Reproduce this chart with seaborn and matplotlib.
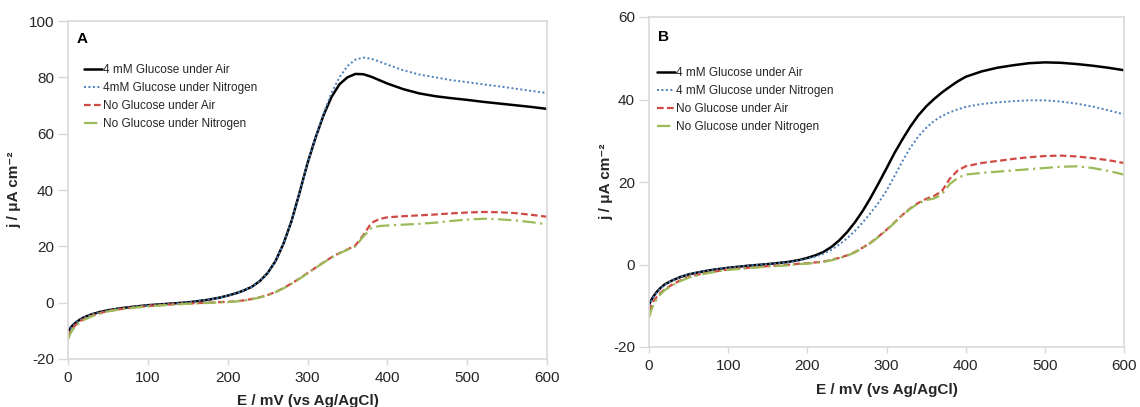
import pandas as pd
import matplotlib.pyplot as plt
import seaborn as sns

# -----------------------------
# Data
# -----------------------------
potential = [0, 3, 6, 10, 15, 20, 30, 40, 50, 65, 80, 100, 125, 150, 175, 190,
             200, 210, 220, 230, 240, 250, 260, 270, 280, 290, 300, 310, 320, 330,
             340, 350, 360, 370, 380, 390, 400, 420, 440, 460, 480, 500, 520, 540,
             560, 580, 600]

# panel A
a_glu_air = [-10.2, -9.0, -8.0, -7.0, -6.0, -5.2, -4.1, -3.3, -2.7, -2.0, -1.5, -0.9, -0.4, 0.1, 1.0, 1.8,
             2.5, 3.3, 4.3, 5.6, 7.6, 10.5, 14.8, 21, 29, 39, 49.5, 58.5, 66.5, 73,
             77.5, 80, 81.2, 81.1, 80.2, 79, 77.8, 75.8, 74.3, 73.3, 72.6, 72, 71.3, 70.7,
             70.1, 69.5, 68.8]
a_glu_n2 = [-10.6, -9.3, -8.2, -7.2, -6.1, -5.3, -4.1, -3.3, -2.7, -2.0, -1.5, -0.9, -0.4, 0.1, 1.0, 1.8,
            2.5, 3.3, 4.3, 5.6, 7.6, 10.5, 14.8, 21, 29, 39, 49.5, 58.5, 67, 74.5,
            80, 84, 86.3, 87, 86.6, 85.6, 84.5, 82.5, 81, 80, 79, 78.3, 77.5, 76.8,
            76, 75.2, 74.4]
a_no_air = [-12, -10.3, -9, -7.8, -6.6, -5.8, -4.6, -3.7, -3.0, -2.3, -1.8, -1.2, -0.7, -0.3, 0, 0.2,
            0.3, 0.5, 0.8, 1.3, 1.9, 2.7, 3.8, 5.2, 6.8, 8.6, 10.5, 12.4, 14.3, 16.1,
            17.6, 18.9, 20.3, 24, 28.3, 29.7, 30.3, 30.7, 31, 31.3, 31.7, 32, 32.2, 32.1,
            31.8, 31.2, 30.5]
a_no_n2 = [-13, -11, -9.5, -8.2, -7, -6.1, -4.8, -3.9, -3.1, -2.4, -1.9, -1.3, -0.8, -0.4, -0.1, 0.1,
           0.2, 0.4, 0.7, 1.2, 1.8, 2.6, 3.7, 5.1, 6.7, 8.5, 10.4, 12.3, 14.2, 16,
           17.5, 18.8, 20, 23.5, 26.5, 27.2, 27.4, 27.7, 28, 28.4, 29, 29.5, 29.8, 29.6,
           29.2, 28.6, 27.8]

# panel B
b_glu_air = [-9.7, -8.6, -7.6, -6.6, -5.6, -4.8, -3.8, -3.0, -2.4, -1.8, -1.3, -0.8, -0.3, 0.1, 0.6, 1.1,
             1.6, 2.2, 3.0, 4.2, 5.8, 7.8, 10.2, 13, 16.2, 19.7, 23.3, 27, 30.3, 33.4,
             36.1, 38.3, 40.1, 41.7, 43.1, 44.4, 45.5, 46.8, 47.7, 48.3, 48.8, 49, 48.9, 48.6,
             48.2, 47.7, 47.1]
b_glu_n2 = [-10, -8.8, -7.8, -6.8, -5.7, -4.9, -3.8, -3.0, -2.4, -1.8, -1.3, -0.8, -0.3, 0.1, 0.5, 1.0,
            1.4, 1.9, 2.6, 3.5, 4.8, 6.3, 8.1, 10.2, 12.5, 15.0, 17.9, 21.4, 25, 28.3,
            31, 33.1, 34.8, 36, 36.9, 37.6, 38.2, 38.9, 39.3, 39.6, 39.8, 39.8, 39.5, 39,
            38.3, 37.4, 36.4]
b_no_air = [-11.3, -10, -8.9, -7.8, -6.8, -6, -4.8, -3.8, -3.0, -2.3, -1.8, -1.2, -0.8, -0.4, -0.1, 0.2,
            0.3, 0.5, 0.7, 1.1, 1.6, 2.2, 3, 4.1, 5.3, 6.8, 8.4, 10.2, 12, 13.6,
            14.9, 15.9, 16.6, 17.8, 20.8, 22.8, 23.8, 24.6, 25.1, 25.6, 26, 26.3, 26.4, 26.2,
            25.8, 25.3, 24.6]
b_no_n2 = [-12.9, -11, -9.6, -8.3, -7.1, -6.2, -5, -4, -3.2, -2.4, -1.9, -1.3, -0.9, -0.5, -0.2, 0.1,
           0.2, 0.4, 0.6, 1, 1.5, 2.1, 2.9, 4, 5.2, 6.7, 8.3, 10.1, 11.9, 13.5,
           14.8, 15.6, 16, 17, 19.5, 21, 21.8, 22.2, 22.5, 22.8, 23.1, 23.4, 23.7, 23.8,
           23.4, 22.7, 21.8]

labels_a = ["4 mM Glucose under Air", "4mM Glucose under Nitrogen",
            "No Glucose under Air", "No Glucose under Nitrogen"]
labels_b = ["4 mM Glucose under Air", "4 mM Glucose under Nitrogen",
            "No Glucose under Air", "No Glucose under Nitrogen"]

colors = ["#000000", "#4a7ebb", "#d04a45", "#9bbb59"]
dash_styles = ["", (1, 1.3), (3, 1.5), (6, 2, 1, 2)]
widths = [1.8, 1.4, 1.6, 1.6]


def make_df(series, labels):
    frames = []
    for vals, lab in zip(series, labels):
        frames.append(pd.DataFrame({"E": potential, "j": vals, "curve": lab}))
    return pd.concat(frames, ignore_index=True)


df_a = make_df([a_glu_air, a_glu_n2, a_no_air, a_no_n2], labels_a)
df_b = make_df([b_glu_air, b_glu_n2, b_no_air, b_no_n2], labels_b)

# -----------------------------
# Plot
# -----------------------------
sns.set_style("white")
plt.rcParams["font.family"] = ["Liberation Sans", "DejaVu Sans"]
plt.rcParams["axes.unicode_minus"] = False

fig = plt.figure(figsize=(11.4, 4.07), dpi=100)
ax_a = fig.add_axes([68 / 1140, 1 - 359 / 407, 479 / 1140, 338 / 407])
ax_b = fig.add_axes([649 / 1140, 1 - 347 / 407, 475 / 1140, 330 / 407])

txt = "#262626"
grey = "#d9d9d9"


def draw(ax, df, labels, ylim, yticks, letter, leg_xy, ylab_x, xlab_y, letter_y):
    sns.lineplot(
        data=df, x="E", y="j", hue="curve", style="curve",
        hue_order=labels, style_order=labels,
        palette=dict(zip(labels, colors)),
        dashes=dict(zip(labels, dash_styles)),
        sort=False, ax=ax,
    )
    for line, w in zip(ax.get_lines(), widths):
        line.set_linewidth(w)

    ax.set_xlim(0, 600)
    ax.set_ylim(*ylim)
    ax.set_xticks(range(0, 601, 100))
    ax.set_yticks(yticks)
    for sp in ax.spines.values():
        sp.set_color(grey)
        sp.set_linewidth(1.2)
    ax.tick_params(axis="x", bottom=True, length=4, width=1, color=grey, pad=5,
                   labelsize=11, labelcolor=txt)
    ax.tick_params(axis="y", left=True, length=7, width=1, color=grey, pad=3,
                   labelsize=11, labelcolor=txt)

    ax.set_xlabel("E / mV (vs Ag/AgCl)", fontsize=11, fontweight="bold", color=txt)
    ax.set_ylabel("j / μA cm⁻²", fontsize=11, fontweight="bold", color=txt)
    ax.xaxis.set_label_coords(0.5, xlab_y)
    ax.yaxis.set_label_coords(ylab_x, 0.5)

    ax.text(0.019, letter_y, letter, transform=ax.transAxes, fontsize=11,
            fontweight="bold", color="black", va="center", ha="left")

    handles, labs = ax.get_legend_handles_labels()
    for h, w in zip(handles, widths):
        h.set_linewidth(w)
    ax.legend(handles, labs, loc="upper left", bbox_to_anchor=leg_xy, frameon=False,
              fontsize=8.5, handlelength=1.5, handletextpad=0.1, borderpad=0,
              borderaxespad=0, labelspacing=0.5, labelcolor=txt)


draw(ax_a, df_a, labels_a, (-20, 100), range(-20, 101, 20), "A",
     (0.033, 0.873), -0.098, -0.104, 0.947)
draw(ax_b, df_b, labels_b, (-20, 60), range(-20, 61, 20), "B",
     (0.017, 0.848), -0.076, -0.109, 0.938)

fig.savefig("out.png", dpi=100)
